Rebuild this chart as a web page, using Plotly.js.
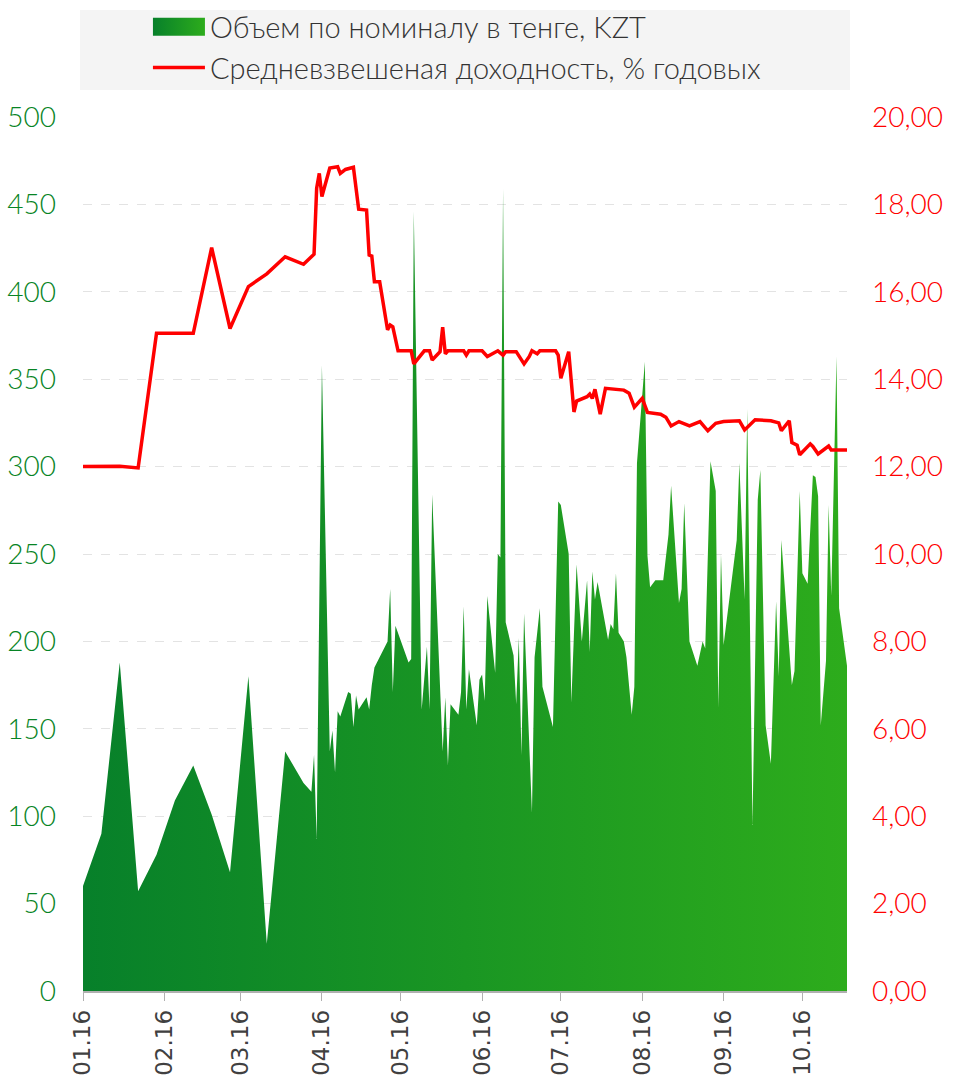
<!DOCTYPE html>
<html>
<head>
<meta charset="utf-8">
<script src="https://cdn.plot.ly/plotly-3.0.1.min.js"></script>
<style>
html,body{margin:0;padding:0;background:#fff;}
#chart{width:955px;height:1078px;}
</style>
</head>
<body>
<div id="chart"></div>
<script>
// Объем по номиналу в тенге, KZT (left axis)
const areaDates = [
'2016-01-01','2016-01-08','2016-01-15','2016-01-22','2016-01-29','2016-02-05','2016-02-12','2016-02-19','2016-02-26','2016-03-04',
'2016-03-11','2016-03-18','2016-03-25','2016-03-28','2016-03-29','2016-03-30','2016-04-01','2016-04-04','2016-04-05','2016-04-06',
'2016-04-07','2016-04-08','2016-04-11','2016-04-12','2016-04-13','2016-04-14','2016-04-15','2016-04-18','2016-04-19','2016-04-20',
'2016-04-21','2016-04-26','2016-04-27','2016-04-28','2016-04-29','2016-05-04','2016-05-05','2016-05-06','2016-05-09','2016-05-11',
'2016-05-12','2016-05-13','2016-05-17','2016-05-18','2016-05-19','2016-05-20','2016-05-23','2016-05-24','2016-05-25','2016-05-26',
'2016-05-27','2016-05-30','2016-05-31','2016-06-01','2016-06-02','2016-06-03','2016-06-06','2016-06-07','2016-06-08','2016-06-09',
'2016-06-10','2016-06-13','2016-06-14','2016-06-15','2016-06-16','2016-06-17','2016-06-20','2016-06-21','2016-06-23','2016-06-24',
'2016-06-28','2016-06-30','2016-07-01','2016-07-04','2016-07-05','2016-07-07','2016-07-09','2016-07-11','2016-07-12','2016-07-13',
'2016-07-14','2016-07-15','2016-07-19','2016-07-20','2016-07-21','2016-07-22','2016-07-23','2016-07-25','2016-07-26','2016-07-28',
'2016-07-29','2016-07-30','2016-08-02','2016-08-03','2016-08-04','2016-08-06','2016-08-09','2016-08-11','2016-08-12','2016-08-15',
'2016-08-16','2016-08-17','2016-08-19','2016-08-22','2016-08-24','2016-08-25','2016-08-27','2016-08-29','2016-08-30','2016-08-31',
'2016-09-01','2016-09-06','2016-09-07','2016-09-09','2016-09-10','2016-09-12','2016-09-14','2016-09-15','2016-09-17','2016-09-19',
'2016-09-21','2016-09-22','2016-09-23','2016-09-27','2016-09-28','2016-09-30','2016-10-01','2016-10-03','2016-10-05','2016-10-06',
'2016-10-07','2016-10-08','2016-10-10','2016-10-11','2016-10-12','2016-10-14','2016-10-15','2016-10-18'
];
const areaValues = [
60,90,188,57,78,109,129,101,68,180,
27,137,119,114,135,87,358,137,149,125,
160,157,171,170,151,169,161,168,161,175,
185,200,230,171,209,188,190,446,161,197,
161,284,137,168,129,164,158,171,220,161,
184,152,178,181,166,226,182,250,248,459,
211,192,164,202,135,216,102,191,219,174,
151,280,278,250,165,244,200,235,194,240,
224,234,201,210,207,239,205,200,191,158,
174,302,360,249,231,235,235,261,289,222,
230,279,200,186,200,196,303,286,162,250,
198,258,302,224,333,95,281,298,152,130,
223,180,258,175,183,286,239,233,295,294,
283,152,189,278,226,363,219,186
];

// Средневзвешеная доходность, % годовых (right axis)
const lineDates = [
'2016-01-01','2016-01-08','2016-01-15','2016-01-22','2016-01-29','2016-02-05','2016-02-12','2016-02-19','2016-02-26','2016-03-04',
'2016-03-11','2016-03-18','2016-03-25','2016-03-29','2016-03-30','2016-03-31','2016-04-01','2016-04-04','2016-04-07','2016-04-08',
'2016-04-10','2016-04-13','2016-04-15','2016-04-18','2016-04-19','2016-04-20','2016-04-21','2016-04-23','2016-04-26','2016-04-27',
'2016-04-28','2016-04-30','2016-05-05','2016-05-06','2016-05-10','2016-05-12','2016-05-13','2016-05-16','2016-05-17','2016-05-18',
'2016-05-19','2016-05-25','2016-05-26','2016-05-27','2016-06-01','2016-06-03','2016-06-05','2016-06-07','2016-06-09','2016-06-10',
'2016-06-14','2016-06-17','2016-06-19','2016-06-20','2016-06-22','2016-06-23','2016-06-29','2016-06-30','2016-07-01','2016-07-04',
'2016-07-06','2016-07-07','2016-07-11','2016-07-12','2016-07-13','2016-07-14','2016-07-16','2016-07-18','2016-07-25','2016-07-27',
'2016-07-29','2016-08-01','2016-08-03','2016-08-08','2016-08-10','2016-08-12','2016-08-15','2016-08-19','2016-08-23','2016-08-26',
'2016-08-29','2016-09-01','2016-09-07','2016-09-09','2016-09-13','2016-09-19','2016-09-22','2016-09-23','2016-09-26','2016-09-27',
'2016-09-29','2016-09-30','2016-10-04','2016-10-05','2016-10-07','2016-10-11','2016-10-12','2016-10-18'
];
const lineValues = [
12.00,12.00,12.01,11.97,15.05,15.05,15.05,17.01,15.16,16.12,
16.41,16.80,16.63,16.86,18.37,18.71,18.18,18.83,18.86,18.71,
18.80,18.85,17.89,17.87,16.84,16.82,16.23,16.23,15.13,15.24,
15.20,14.65,14.65,14.35,14.65,14.65,14.44,14.63,15.19,14.58,
14.65,14.65,14.55,14.65,14.65,14.52,14.59,14.65,14.55,14.63,
14.63,14.35,14.52,14.65,14.58,14.65,14.65,14.55,14.02,14.63,
13.25,13.50,13.60,13.66,13.56,13.77,13.20,13.79,13.75,13.68,
13.36,13.56,13.24,13.20,13.13,12.93,13.03,12.93,13.03,12.82,
12.99,13.03,13.05,12.84,13.07,13.05,13.00,12.82,13.05,12.55,
12.49,12.27,12.52,12.46,12.29,12.47,12.38,12.38
];

const seriesNames = ['Объем по номиналу в тенге, KZT', 'Средневзвешеная доходность, % годовых'];
const leftTicks = [0,50,100,150,200,250,300,350,400,450,500];
const rightTicks = [0,2,4,6,8,10,12,14,16,18,20];

const lightFont = 'Lato, "Open Sans", sans-serif';

const traces = [
  {
    type: 'scatter',
    x: areaDates,
    y: areaValues,
    name: seriesNames[0],
    mode: 'none',
    fill: 'tozeroy',
    fillcolor: '#1a9a20',
    fillgradient: {type: 'horizontal', colorscale: [[0, '#07802a'], [1, '#2dac1c']]},
    hoverinfo: 'x+y'
  },
  {
    type: 'scatter',
    x: lineDates,
    y: lineValues,
    name: seriesNames[1],
    mode: 'lines',
    yaxis: 'y2',
    line: {color: '#ff0000', width: 3.5}
  }
];

const layout = {
  width: 955,
  height: 1078,
  margin: {l: 83, r: 108, t: 117, b: 87, autoexpand: false},
  paper_bgcolor: '#ffffff',
  plot_bgcolor: '#ffffff',
  separators: ', ',
  showlegend: true,
  legend: {
    x: 0.085, xanchor: 'left',
    y: 1.1322, yanchor: 'top',
    orientation: 'v',
    bgcolor: 'rgba(0,0,0,0)',
    font: {family: lightFont, size: 29, color: '#333333', weight: 300},
    tracegroupgap: 0,
    itemwidth: 52
  },
  shapes: [
    {type: 'rect', xref: 'paper', yref: 'paper', x0: -0.004, x1: 1.004, y0: 1.0309, y1: 1.1224,
     fillcolor: '#f4f4f4', line: {width: 0}, layer: 'below'}
  ],
  xaxis: {
    type: 'date',
    range: ['2016-01-01', '2016-10-18'],
    tick0: '2016-01-01',
    dtick: 'M1',
    tickformat: '%m.%y',
    tickangle: -90,
    ticks: 'outside',
    ticklen: 8,
    tickcolor: '#b0b0b0',
    showline: true,
    linecolor: '#b0b0b0',
    linewidth: 1.5,
    showgrid: false,
    zeroline: false,
    automargin: false,
    tickfont: {family: '"DejaVu Sans", Verdana, sans-serif', size: 23, color: '#404040'}
  },
  yaxis: {
    range: [0, 500],
    tickvals: leftTicks,
    ticks: '',
    showline: false,
    zeroline: false,
    showgrid: true,
    gridcolor: '#e3e3e3',
    griddash: 'dash',
    gridwidth: 1.2,
    automargin: false,
    ticklabelstandoff: 26,
    tickfont: {family: lightFont, size: 28, color: '#078424', weight: 300}
  },
  yaxis2: {
    range: [0, 20],
    tickvals: rightTicks,
    tickformat: '.2f',
    overlaying: 'y',
    side: 'right',
    ticks: '',
    showline: false,
    zeroline: false,
    showgrid: false,
    automargin: false,
    ticklabelstandoff: 24,
    tickfont: {family: lightFont, size: 28, color: '#ff0000', weight: 300}
  }
};

Plotly.newPlot('chart', traces, layout, {displayModeBar: false}).then(function (gd) {
  // enlarge the area swatch in the legend to a box like the original
  gd.querySelectorAll('.legendfill path').forEach(function (p) {
    p.setAttribute('d', 'M5,-9h52v18h-52z');
  });
});
</script>
</body>
</html>
